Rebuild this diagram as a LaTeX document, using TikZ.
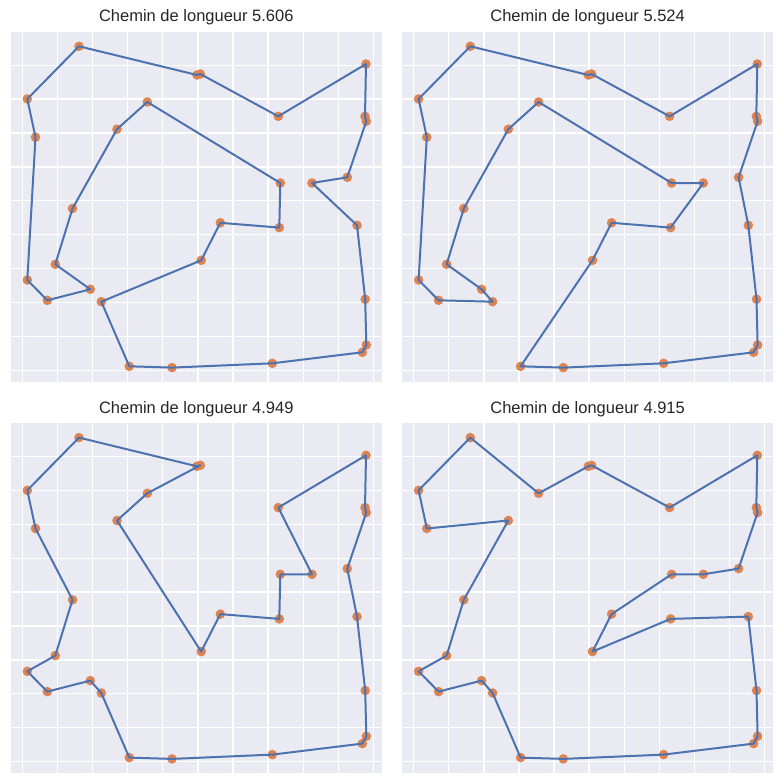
\documentclass[tikz,border=0pt]{standalone}
\usepackage{fontspec}
\setmainfont{Liberation Sans}
\definecolor{axbg}{HTML}{EAEAF2}
\definecolor{tourblue}{HTML}{4C72B0}
\definecolor{ptorange}{HTML}{DD8452}
\definecolor{titlegray}{HTML}{262626}
\tikzset{
  axesbg/.style={fill=axbg, draw=none},
  gridline/.style={draw=white, line width=1.36pt},
  tour/.style={draw=tourblue, line width=2pt, line join=round, line cap=round},
  ptdot/.style={fill=ptorange, draw=none},
  paneltitle/.style={anchor=base, text=titlegray, inner sep=0pt, font=\fontsize{16.5}{19}\selectfont},
}
\newcommand\drawpanel[4]{%
  \begin{scope}[shift={(#2,#3)}]
    \fill[axesbg] (10.7,30.7) rectangle (382,381.7);
    \foreach \k in {0,...,10}{
      \draw[gridline] ({22.3+35.11*\k},30.7) -- ({22.3+35.11*\k},381.7);
      \draw[gridline] (10.7,{31.3+33.9*\k}) -- (382,{31.3+33.9*\k});
    }
    \node[paneltitle] (#1-title) at (196.3,21.7) {#4};
    \coordinate (#1-1) at (79,46.3);
    \coordinate (#1-2a) at (197,75);
    \coordinate (#1-2b) at (200.3,74);
    \coordinate (#1-3) at (366,64);
    \coordinate (#1-4) at (27.3,99);
    \coordinate (#1-5) at (147.3,102);
    \coordinate (#1-6) at (278.3,116.3);
    \coordinate (#1-7a) at (365,116.3);
    \coordinate (#1-7b) at (366.3,121.3);
    \coordinate (#1-8) at (35.5,137.2);
    \coordinate (#1-9) at (117,129.2);
    \coordinate (#1-10) at (280.3,183);
    \coordinate (#1-11) at (312,183);
    \coordinate (#1-12) at (347.3,177.3);
    \coordinate (#1-13) at (72.5,208.5);
    \coordinate (#1-14) at (220.3,222.8);
    \coordinate (#1-15) at (279.3,227.6);
    \coordinate (#1-16) at (357,225.3);
    \coordinate (#1-17) at (55.3,264.3);
    \coordinate (#1-18) at (201.2,260.3);
    \coordinate (#1-19) at (27.3,280);
    \coordinate (#1-20) at (90.3,289.3);
    \coordinate (#1-21) at (47.3,300.3);
    \coordinate (#1-22) at (101.3,301.7);
    \coordinate (#1-23) at (365.2,299.2);
    \coordinate (#1-24a) at (366.3,345);
    \coordinate (#1-24b) at (362.3,352.3);
    \coordinate (#1-25) at (129.3,366.3);
    \coordinate (#1-26) at (172,367.6);
    \coordinate (#1-27) at (272.3,363.3);
    \foreach \p in {1,2a,2b,3,4,5,6,7a,7b,8,9,10,11,12,13,14,15,16,17,18,19,20,21,22,23,24a,24b,25,26,27}{
      \fill[ptdot] (#1-\p) circle[radius=4.8pt];
    }
  \end{scope}}
\begin{document}
\begin{tikzpicture}[x=1pt,y=-1pt]
  \useasboundingbox (0,0) rectangle (784,784);
  \fill[white] (0,0) rectangle (784,784);
  \drawpanel{A}{0}{0}{Chemin de longueur 5.606}
  \drawpanel{B}{391.3}{0}{Chemin de longueur 5.524}
  \drawpanel{C}{0}{391.3}{Chemin de longueur 4.949}
  \drawpanel{D}{391.3}{391.3}{Chemin de longueur 4.915}
  \draw[tour] (A-1) -- (A-2a) -- (A-2b) -- (A-6) -- (A-3) -- (A-7a) -- (A-7b) -- (A-12) -- (A-11) -- (A-16) -- (A-23) -- (A-24a) -- (A-24b) -- (A-27) -- (A-26) -- (A-25) -- (A-22) -- (A-18) -- (A-14) -- (A-15) -- (A-10) -- (A-5) -- (A-9) -- (A-13) -- (A-17) -- (A-20) -- (A-21) -- (A-19) -- (A-8) -- (A-4) -- cycle;
  \draw[tour] (B-1) -- (B-2a) -- (B-2b) -- (B-6) -- (B-3) -- (B-7a) -- (B-7b) -- (B-12) -- (B-16) -- (B-23) -- (B-24a) -- (B-24b) -- (B-27) -- (B-26) -- (B-25) -- (B-18) -- (B-14) -- (B-15) -- (B-11) -- (B-10) -- (B-5) -- (B-9) -- (B-13) -- (B-17) -- (B-20) -- (B-22) -- (B-21) -- (B-19) -- (B-8) -- (B-4) -- cycle;
  \draw[tour] (C-1) -- (C-2a) -- (C-2b) -- (C-5) -- (C-9) -- (C-18) -- (C-14) -- (C-15) -- (C-10) -- (C-11) -- (C-6) -- (C-3) -- (C-7a) -- (C-7b) -- (C-12) -- (C-16) -- (C-23) -- (C-24a) -- (C-24b) -- (C-27) -- (C-26) -- (C-25) -- (C-22) -- (C-20) -- (C-21) -- (C-19) -- (C-17) -- (C-13) -- (C-8) -- (C-4) -- cycle;
  \draw[tour] (D-1) -- (D-5) -- (D-2a) -- (D-2b) -- (D-6) -- (D-3) -- (D-7a) -- (D-7b) -- (D-12) -- (D-11) -- (D-10) -- (D-14) -- (D-18) -- (D-15) -- (D-16) -- (D-23) -- (D-24a) -- (D-24b) -- (D-27) -- (D-26) -- (D-25) -- (D-22) -- (D-20) -- (D-21) -- (D-19) -- (D-17) -- (D-13) -- (D-9) -- (D-8) -- (D-4) -- cycle;
\end{tikzpicture}
\end{document}
